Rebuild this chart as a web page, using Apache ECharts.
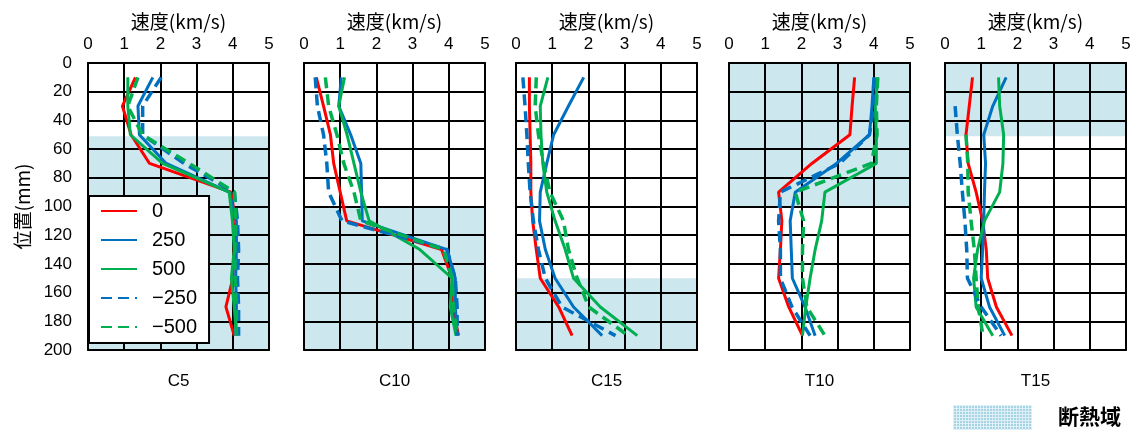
<!DOCTYPE html>
<html>
<head>
<meta charset="utf-8">
<script src="https://cdn.jsdelivr.net/npm/echarts@6/dist/echarts.min.js"></script>
<style>
  html, body { margin: 0; padding: 0; background: #fff; }
  #chart { width: 1134px; height: 430px; }
</style>
</head>
<body>
<div id="chart"></div>
<script>
// Measurement depths (mm) shared by every profile
const depths = [10, 30, 50, 70, 90, 110, 130, 150, 170, 190];
// Series (offset) names and panel (specimen) names
const seriesNames = ['0', '250', '500', '−250', '−500'];
const panelNames = ['C5', 'C10', 'C15', 'T10', 'T15'];

// Velocity (km/s) per depth; rows follow seriesNames
const C5 = [
  [1.31, 0.95, 1.19, 1.70, 3.95, 4.08, 4.04, 4.00, 3.81, 4.04],
  [1.79, 1.38, 1.42, 2.16, 3.90, 4.10, 4.10, 4.08, 4.10, 4.08],
  [1.10, 1.10, 1.17, 2.06, 3.90, 3.99, 4.04, 3.96, 4.04, 4.10],
  [2.02, 1.51, 1.51, 2.65, 4.04, 4.13, 4.16, 4.13, 4.16, 4.16],
  [1.38, 1.10, 1.50, 2.80, 4.05, 4.08, 4.06, 4.06, 4.10, 4.10]
];
const C10 = [
  [0.34, 0.54, 0.73, 0.82, 1.00, 1.18, 3.80, 4.09, 4.10, 4.27],
  [1.03, 0.96, 1.29, 1.57, 1.59, 1.61, 3.95, 4.18, 4.18, 4.23],
  [1.12, 0.96, 1.19, 1.38, 1.57, 1.80, 3.20, 4.09, 4.04, 4.20],
  [0.31, 0.37, 0.54, 0.63, 0.68, 1.05, 3.95, 4.18, 4.23, 4.23],
  [0.59, 0.68, 0.91, 1.10, 1.38, 1.57, 3.85, 4.09, 4.13, 4.23]
];
const C15 = [
  [0.37, 0.37, 0.39, 0.41, 0.41, 0.46, 0.56, 0.67, 1.18, 1.55],
  [1.87, 1.45, 1.04, 0.85, 0.67, 0.65, 0.81, 1.08, 1.59, 2.38],
  [0.88, 0.67, 0.69, 0.74, 0.85, 1.08, 1.36, 1.59, 2.33, 3.35],
  [0.19, 0.25, 0.30, 0.34, 0.39, 0.48, 0.62, 0.81, 1.27, 2.75],
  [0.56, 0.53, 0.62, 0.76, 0.94, 1.31, 1.45, 1.69, 2.01, 3.10]
];
const T10 = [
  [3.47, 3.40, 3.34, 2.29, 1.37, 1.46, 1.42, 1.37, 1.65, 2.03],
  [4.00, 3.95, 3.88, 2.97, 1.83, 1.69, 1.72, 1.75, 2.10, 2.38],
  [4.11, 4.04, 4.07, 4.07, 2.65, 2.56, 2.38, 2.24, 2.12, 2.03],
  [4.02, 4.00, 3.88, 3.06, 1.42, 1.37, 1.42, 1.42, 1.74, 2.24],
  [4.11, 4.07, 4.09, 3.93, 1.83, 2.06, 2.03, 2.03, 2.15, 2.65]
];
const T15 = [
  [0.76, 0.67, 0.58, 0.64, 0.86, 1.04, 1.14, 1.18, 1.42, 1.85],
  [1.69, 1.32, 1.07, 1.12, 1.09, 1.07, 1.04, 1.00, 1.23, 1.65],
  [1.48, 1.51, 1.62, 1.60, 1.51, 1.09, 0.90, 0.79, 0.86, 1.32],
  [null, 0.28, 0.34, 0.42, 0.48, 0.55, 0.60, 0.62, 1.00, 1.55],
  [null, null, 0.58, 0.63, 0.64, 0.72, 0.81, 0.86, 0.92, 1.05]
];
// Insulated zone (mm range) in each panel
const insulationZones = [[51, 200], [100, 200], [150, 200], [0, 100], [0, 51]];

const panelData = [C5, C10, C15, T10, T15];

// Appearance
const colors = ['#ff0000', '#0070c0', '#00b050', '#0070c0', '#00b050'];
const dashed = [false, false, false, true, true];
const panelLeft = [88, 304, 516, 729, 945];
const panelTop = 63, panelW = 181, panelH = 287;
const numFont = "'Liberation Sans', Arial, sans-serif";
const jpFont = "'Noto Sans CJK JP', sans-serif";
const zoneColor = '#cde7ef';

// Small tiled pattern for the insulated-zone key
function makePattern() {
  const c = document.createElement('canvas');
  c.width = 3; c.height = 3;
  const g = c.getContext('2d');
  g.fillStyle = '#a6d4e3';
  g.fillRect(0, 0, 3, 3);
  g.fillStyle = '#dff0f6';
  g.fillRect(0, 0, 3, 1);
  g.fillRect(0, 0, 1, 3);
  return c;
}

const grid = [], xAxis = [], yAxis = [], series = [];
panelNames.forEach((pname, i) => {
  grid.push({
    left: panelLeft[i], top: panelTop, width: panelW, height: panelH,
    show: false
  });
  xAxis.push({
    gridIndex: i, type: 'value', position: 'top', min: 0, max: 5, interval: 1,
    name: '速度(km/s)', nameLocation: 'middle', nameGap: 32,
    nameTextStyle: { fontSize: 19, fontFamily: jpFont, color: '#000' },
    axisLine: { show: true, onZero: false, lineStyle: { color: '#000', width: 2 } },
    axisTick: { show: false },
    axisLabel: { fontSize: 17, fontFamily: numFont, color: '#000', margin: 10 },
    splitLine: { show: true, lineStyle: { color: '#000', width: 2 } },
    z: 1.5
  });
  // bottom axis carrying the panel name
  xAxis.push({
    gridIndex: i, type: 'value', position: 'bottom', min: 0, max: 5, interval: 1,
    name: pname, nameLocation: 'middle', nameGap: 23,
    nameTextStyle: { fontSize: 17, fontFamily: numFont, color: '#000' },
    axisLine: { show: true, onZero: false, lineStyle: { color: '#000', width: 2 } },
    axisTick: { show: false }, axisLabel: { show: false }, splitLine: { show: false },
    z: 1.5
  });
  yAxis.push({
    gridIndex: i, type: 'value', inverse: true, min: 0, max: 200, interval: 20,
    name: i === 0 ? '位置(mm)' : '', nameLocation: 'middle', nameRotate: 90, nameGap: 56,
    nameTextStyle: { fontSize: 19, fontFamily: jpFont, color: '#000' },
    axisLine: { show: true, onZero: false, lineStyle: { color: '#000', width: 2 } },
    axisTick: { show: false },
    axisLabel: { show: i === 0, fontSize: 17, fontFamily: numFont, color: '#000', margin: 16 },
    splitLine: { show: true, lineStyle: { color: '#000', width: 2 } },
    z: 1.5
  });
  // extra right-hand axis line to close the frame
  yAxis.push({
    gridIndex: i, type: 'value', position: 'right', inverse: true, min: 0, max: 200,
    axisLine: { show: true, onZero: false, lineStyle: { color: '#000', width: 2 } },
    axisTick: { show: false }, axisLabel: { show: false }, splitLine: { show: false },
    z: 1.5
  });

  const rows = panelData[i];
  seriesNames.forEach((sname, k) => {
    const s = {
      type: 'line', name: sname,
      xAxisIndex: i * 2, yAxisIndex: i * 2,
      data: depths.map((d, j) => rows[k][j] == null ? null : [rows[k][j], d]).filter(p => p),
      symbol: 'none', silent: true,
      lineStyle: {
        color: colors[k],
        width: dashed[k] ? 3.5 : 3,
        type: dashed[k] ? [11, 6] : 'solid'
      },
      itemStyle: { color: colors[k] },
      z: 2
    };
    if (k === 0) {
      s.markArea = {
        silent: true,
        itemStyle: { color: zoneColor },
        data: [[{ yAxis: insulationZones[i][0] }, { yAxis: insulationZones[i][1] }]]
      };
    }
    series.push(s);
  });
});

const chart = echarts.init(document.getElementById('chart'), null, { renderer: 'canvas' });
chart.setOption({
  animation: false,
  backgroundColor: '#fff',
  grid, xAxis, yAxis, series,
  legend: {
    orient: 'vertical', left: 89, top: 196,
    data: seriesNames,
    backgroundColor: '#fff', borderColor: '#000', borderWidth: 2, borderRadius: 0,
    padding: [5, 12, 6, 11],
    itemWidth: 36, itemHeight: 14, itemGap: 9,
    itemStyle: { opacity: 0 },
    textStyle: { fontSize: 20, fontFamily: numFont, color: '#000', padding: [0, 0, 0, 10], lineHeight: 20 },
    selectedMode: false,
    z: 5
  },
  graphic: [
    {
      type: 'rect', left: 953, top: 405, z: 10,
      shape: { width: 79, height: 25 },
      style: { fill: { image: makePattern(), repeat: 'repeat' } }
    },
    {
      type: 'text', left: 1058, top: 406, z: 10,
      style: { text: '断熱域', fontSize: 21, fontWeight: 'bold', fontFamily: jpFont, fill: '#000' }
    }
  ]
});
</script>
</body>
</html>
